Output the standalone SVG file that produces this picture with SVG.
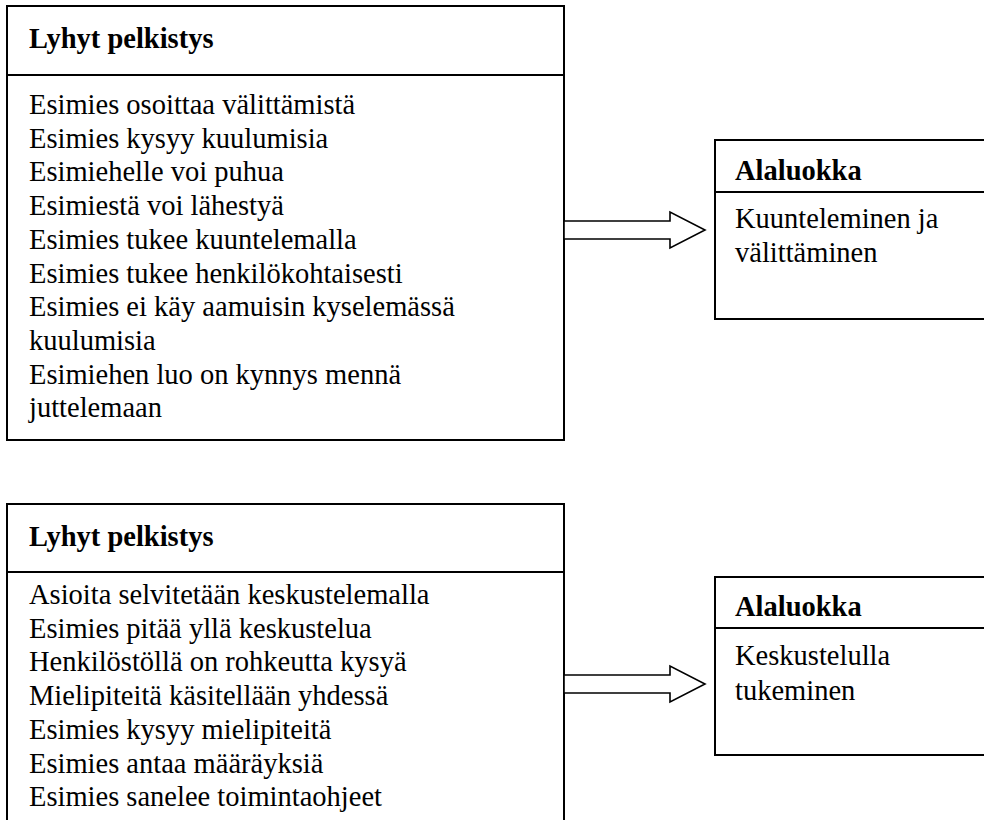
<svg xmlns="http://www.w3.org/2000/svg" width="984" height="820" viewBox="0 0 984 820">
<style>
.box{fill:#fff;stroke:#000;stroke-width:2}
.div{stroke:#000;stroke-width:2}
.arr{fill:#fff;stroke:#000;stroke-width:1.6;stroke-linejoin:miter}
text{font-family:"Liberation Serif","Times New Roman",serif;font-size:28.5px;fill:#000}
.h{font-weight:bold}
</style>
<rect width="984" height="820" fill="#fff"/>
<g id="lyhyt1">
<rect class="box" x="7" y="6" width="557" height="434"/>
<line class="div" x1="7" y1="75" x2="564" y2="75"/>
<text class="h" x="29" y="48">Lyhyt pelkistys</text>
<text x="29" y="114">Esimies osoittaa välittämistä</text>
<text x="29" y="147.7">Esimies kysyy kuulumisia</text>
<text x="29" y="181.4">Esimiehelle voi puhua</text>
<text x="29" y="215.1">Esimiestä voi lähestyä</text>
<text x="29" y="248.8">Esimies tukee kuuntelemalla</text>
<text x="29" y="282.5">Esimies tukee henkilökohtaisesti</text>
<text x="29" y="316.2">Esimies ei käy aamuisin kyselemässä</text>
<text x="29" y="349.9">kuulumisia</text>
<text x="29" y="383.6">Esimiehen luo on kynnys mennä</text>
<text x="29" y="417.3">juttelemaan</text>
</g>
<g id="alaluokka1">
<rect class="box" x="715" y="140" width="290" height="179"/>
<line class="div" x1="715" y1="192" x2="1000" y2="192"/>
<text class="h" x="735" y="180">Alaluokka</text>
<text x="735" y="228">Kuunteleminen ja</text>
<text x="735" y="262">välittäminen</text>
</g>
<g id="lyhyt2">
<rect class="box" x="7" y="504" width="557" height="330"/>
<line class="div" x1="7" y1="572" x2="564" y2="572"/>
<text class="h" x="29" y="546">Lyhyt pelkistys</text>
<text x="29" y="604">Asioita selvitetään keskustelemalla</text>
<text x="29" y="637.7">Esimies pitää yllä keskustelua</text>
<text x="29" y="671.4">Henkilöstöllä on rohkeutta kysyä</text>
<text x="29" y="705.1">Mielipiteitä käsitellään yhdessä</text>
<text x="29" y="738.8">Esimies kysyy mielipiteitä</text>
<text x="29" y="772.5">Esimies antaa määräyksiä</text>
<text x="29" y="806.2">Esimies sanelee toimintaohjeet</text>
</g>
<g id="alaluokka2">
<rect class="box" x="715" y="577" width="290" height="178"/>
<line class="div" x1="715" y1="628" x2="1000" y2="628"/>
<text class="h" x="735" y="616">Alaluokka</text>
<text x="735" y="665">Keskustelulla</text>
<text x="735" y="700">tukeminen</text>
</g>
<g id="connectors">
<polygon class="arr" points="564,221 670,221 670,212 705,230 670,248 670,239 564,239"/>
<polygon class="arr" points="564,675 670,675 670,666 705,684 670,702 670,693 564,693"/>
</g>
</svg>
